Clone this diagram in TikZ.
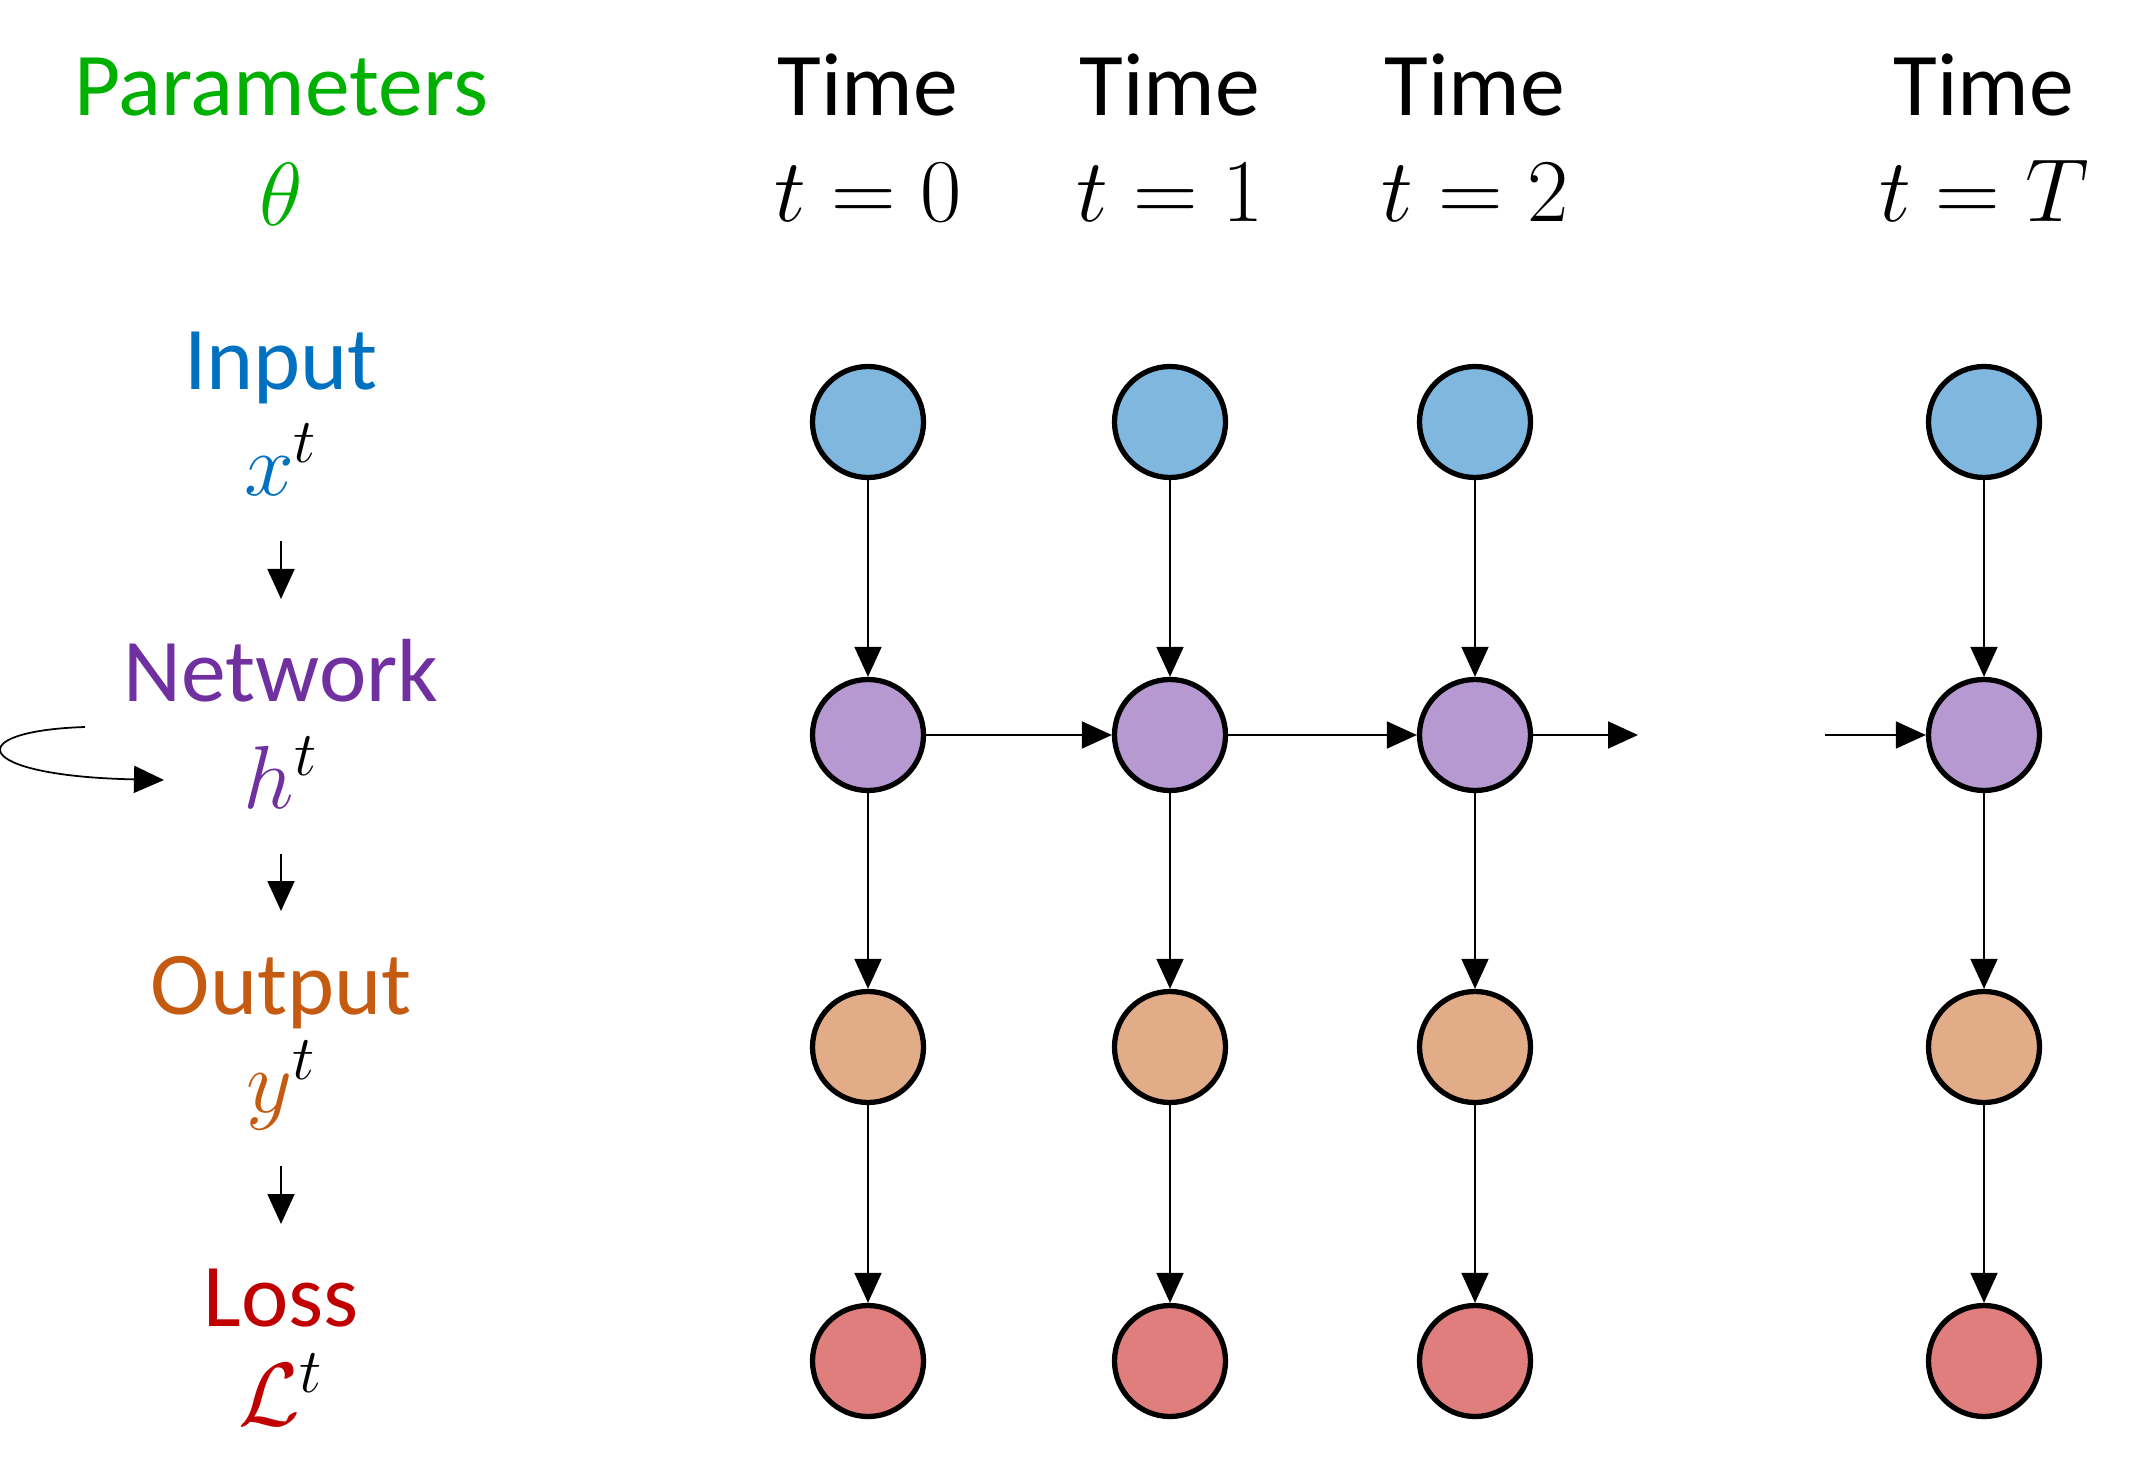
\RequirePackage{fix-cm}
\documentclass[tikz,border=0pt]{standalone}
\usepackage{amsmath}
\usepackage{fontspec}
\setmainfont{Carlito}
\usetikzlibrary{arrows.meta}

\definecolor{pargreen}{RGB}{0,176,0}
\definecolor{inblue}{RGB}{0,112,192}
\definecolor{netpurple}{RGB}{112,48,160}
\definecolor{outorange}{RGB}{197,90,17}
\definecolor{lossred}{RGB}{192,0,0}
\definecolor{infill}{RGB}{127,183,222}
\definecolor{netfill}{RGB}{181,153,208}
\definecolor{outfill}{RGB}{226,172,137}
\definecolor{lossfill}{RGB}{224,125,125}

\begin{document}
\begin{tikzpicture}[
	>={Triangle[length=0.3cm,width=0.27cm]},
	arr/.style={->, line width=0.5pt},
	cell/.style={circle, draw=black, line width=1.5pt, minimum size=1.11cm, inner sep=0pt},
	lab/.style={anchor=base, inner sep=0pt, font=\fontsize{25.5}{30}\selectfont}
	]
\useasboundingbox (0,0) rectangle (21.48,14.80);
% time steps
\foreach \c/\xx in {0/8.68,1/11.70,2/14.75,T/19.84}{
	\node[lab] (time\c) at (\xx,13.64) {Time};
	\node[lab] (tval\c) at (\xx,12.58) {$t = \c$};
	\node[cell, fill=infill] (x\c) at (\xx,10.58) {};
	\node[cell, fill=netfill] (h\c) at (\xx,7.45) {};
	\node[cell, fill=outfill] (y\c) at (\xx,4.33) {};
	\node[cell, fill=lossfill] (L\c) at (\xx,1.19) {};
	\draw[arr] (x\c) -- (h\c);
	\draw[arr] (h\c) -- (y\c);
	\draw[arr] (y\c) -- (L\c);
	}
% recurrence
\coordinate (gapin) at (16.38,7.45);
\coordinate (gapout) at (18.25,7.45);
\draw[arr] (h0) -- (h1);
\draw[arr] (h1) -- (h2);
\draw[arr] (h2) -- (gapin);
\draw[arr] (gapout) -- (hT);
% legend column
\node[lab, text=pargreen] (parlab) at (2.81,13.64) {Parameters};
\node[lab, text=pargreen] (thlab) at (2.81,12.54) {$\theta$};
\node[lab, text=inblue] (inlab) at (2.81,10.90) {Input};
\node[lab, text=inblue] (xlab) at (2.81,9.845) {$x^{\color{black}t}$};
\node[lab, text=netpurple] (netlab) at (2.81,7.785) {Network};
\node[lab, text=netpurple] (hlab) at (2.81,6.72) {$h^{\color{black}t}$};
\node[lab, text=outorange] (outlab) at (2.81,4.66) {Output};
\node[lab, text=outorange] (ylab) at (2.81,3.68) {$y^{\color{black}t}$};
\node[lab, text=lossred] (losslab) at (2.81,1.54) {Loss};
\node[lab, text=lossred] (Llab) at (2.81,0.55) {$\mathcal{L}^{\color{black}t}$};
\coordinate (xa) at (2.81,9.39);
\coordinate (xb) at (2.81,8.81);
\coordinate (ha) at (2.81,6.26);
\coordinate (hb) at (2.81,5.69);
\coordinate (ya) at (2.81,3.14);
\coordinate (yb) at (2.81,2.56);
\draw[arr] (xa) -- (xb);
\draw[arr] (ha) -- (hb);
\draw[arr] (ya) -- (yb);
% self loop
\coordinate (loopa) at (0.85,7.53);
\coordinate (loopb) at (1.64,7.00);
\draw[arr] (loopa) .. controls (-0.4,7.49) and (-0.3,7.04) .. (loopb);
\end{tikzpicture}
\end{document}
